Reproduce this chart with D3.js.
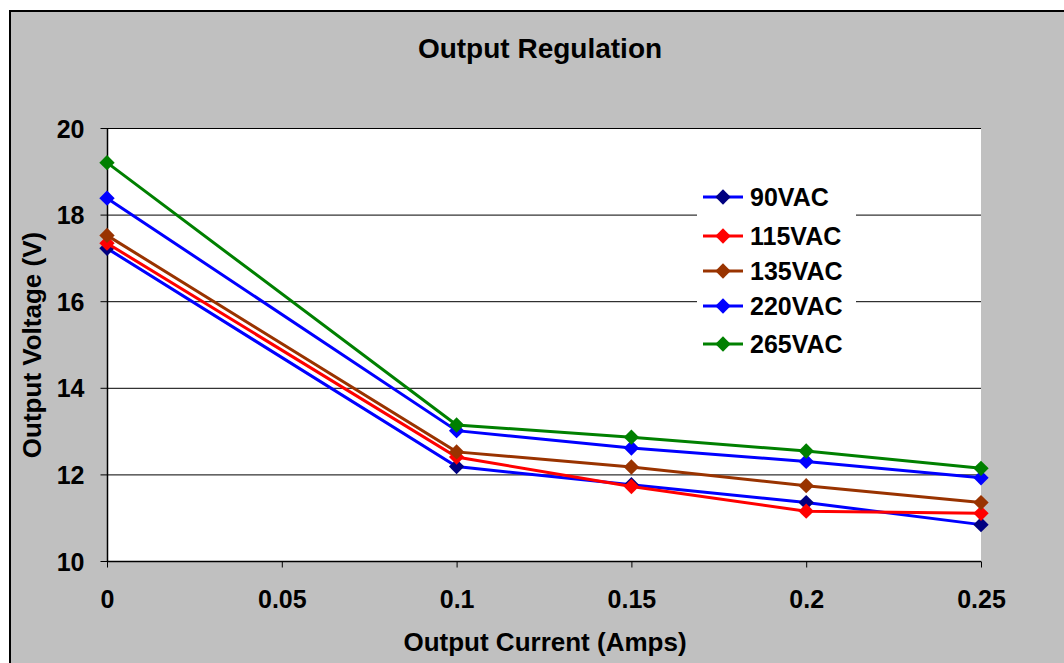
<!DOCTYPE html>
<html><head><meta charset="utf-8">
<script src="https://cdn.jsdelivr.net/npm/d3@7"></script>
<style>
html,body{margin:0;padding:0;background:#fff;}
svg{display:block;font-family:Arial,"Liberation Sans",sans-serif;}
</style></head>
<body><svg id="c" width="1064" height="663"></svg>
<script>
const xValues = [0, 0.1, 0.15, 0.2, 0.25];
const seriesNames = ["90VAC", "115VAC", "135VAC", "220VAC", "265VAC"];
const v90  = [17.22, 12.18, 11.76, 11.35, 10.84];
const v115 = [17.34, 12.40, 11.72, 11.15, 11.10];
const v135 = [17.52, 12.52, 12.17, 11.74, 11.35];
const v220 = [18.38, 13.01, 12.61, 12.30, 11.92];
const v265 = [19.20, 13.14, 12.86, 12.54, 12.14];
const xTicks = [0, 0.05, 0.1, 0.15, 0.2, 0.25];
const xTickLabels = ["0", "0.05", "0.1", "0.15", "0.2", "0.25"];
const yTicks = [10, 12, 14, 16, 18, 20];

const seriesValues = [v90, v115, v135, v220, v265];
const lineColors = ["#0000ff", "#ff0000", "#993300", "#0000ff", "#008000"];
const markerColors = ["#000080", "#ff0000", "#993300", "#0000ff", "#008000"];

const svg = d3.select("#c");
svg.append("rect").attr("x", 10).attr("y", 11).attr("width", 1070).attr("height", 670)
  .attr("fill", "#c0c0c0").attr("stroke", "#000").attr("stroke-width", 2);

const L = 107, R = 981, T = 128, B = 561;
svg.append("rect").attr("x", L).attr("y", T).attr("width", R - L).attr("height", B - T).attr("fill", "#fff");

const x = d3.scaleLinear().domain([0, 0.25]).range([L, R]);
const y = d3.scaleLinear().domain([10, 20]).range([B, T]);

svg.append("g").selectAll("line").data(yTicks.filter(d => d > 10)).join("line")
  .attr("x1", L).attr("x2", R).attr("y1", d => y(d) + 0.5).attr("y2", d => y(d) + 0.5)
  .attr("stroke", "#000").attr("stroke-width", 1);

const yAxis = svg.append("g").attr("transform", `translate(${L + 0.5},0)`)
  .call(d3.axisLeft(y).tickValues(yTicks).tickSize(7).tickPadding(16).tickFormat(d3.format("d")));
const xAxis = svg.append("g").attr("transform", `translate(0,${B + 0.5})`)
  .call(d3.axisBottom(x).tickValues(xTicks).tickSize(6).tickFormat((d, i) => xTickLabels[i]));
[yAxis, xAxis].forEach(g => {
  g.select(".domain").attr("stroke", "#000").attr("stroke-width", 1.5);
  g.selectAll(".tick line").attr("stroke", "#000");
  g.selectAll("text").attr("fill", "#000").attr("font-size", 25).attr("font-weight", "bold")
    .attr("font-family", "Arial, 'Liberation Sans', sans-serif");
});
xAxis.selectAll("text").attr("y", 46).attr("dy", 0);
yAxis.selectAll("text").attr("dy", "0.36em");
xAxis.select(".domain").attr("d", `M${L},0H${R}`);
yAxis.select(".domain").attr("d", `M0,${T}V${B}`);

const line = d3.line().x((d, i) => x(xValues[i])).y(d => y(d));
const diamond = d3.symbol().type(d3.symbolDiamond2).size(150);

seriesValues.forEach((vals, si) => {
  const g = svg.append("g");
  g.append("path").datum(vals).attr("d", line).attr("fill", "none")
    .attr("stroke", lineColors[si]).attr("stroke-width", 3);
  g.selectAll("path.m").data(vals).join("path").attr("class", "m")
    .attr("d", diamond)
    .attr("transform", (d, i) => `translate(${x(xValues[i])},${y(d)})`)
    .attr("fill", markerColors[si]);
});

const legY = [197, 236, 271, 306, 344];
const leg = svg.append("g");
leg.append("rect").attr("x", 697).attr("y", 180).attr("width", 159).attr("height", 182).attr("fill", "#fff");
seriesNames.forEach((name, i) => {
  const gy = legY[i];
  leg.append("line").attr("x1", 703).attr("x2", 743).attr("y1", gy).attr("y2", gy)
    .attr("stroke", lineColors[i]).attr("stroke-width", 3);
  leg.append("path").attr("d", diamond).attr("transform", `translate(723,${gy})`).attr("fill", markerColors[i]);
  leg.append("text").attr("x", 750).attr("y", gy + 9).text(name)
    .attr("font-size", 25).attr("font-weight", "bold").attr("fill", "#000");
});

svg.append("text").attr("x", 540).attr("y", 58).attr("text-anchor", "middle")
  .attr("font-size", 28).attr("font-weight", "bold").text("Output Regulation");
svg.append("text").attr("x", 545).attr("y", 651).attr("text-anchor", "middle")
  .attr("font-size", 26).attr("font-weight", "bold").text("Output Current (Amps)");
svg.append("text").attr("transform", "translate(41,345) rotate(-90)").attr("text-anchor", "middle")
  .attr("font-size", 26).attr("font-weight", "bold").text("Output Voltage (V)");
</script></body></html>
